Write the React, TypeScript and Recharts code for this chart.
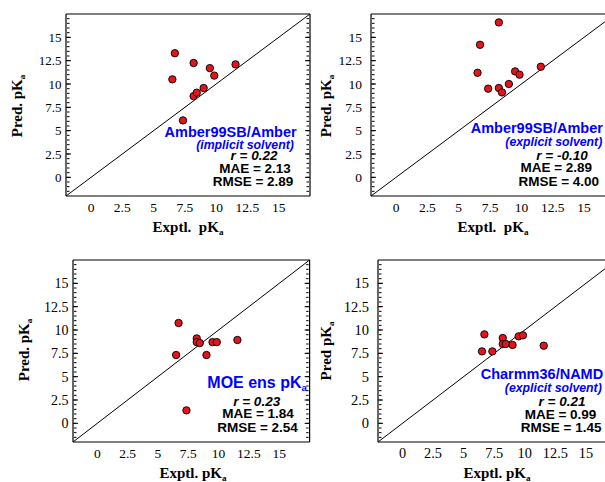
import React from "react";
import { ScatterChart, Scatter, XAxis, YAxis, ReferenceLine } from "recharts";

// experimental pKa (shared by all four panels) and predicted pKa per method
const exptPka = [6.5, 6.7, 7.35, 8.2, 8.2, 8.45, 9.0, 9.5, 9.85, 11.55];
const amberImplicitPred = [10.5, 13.3, 6.1, 12.25, 8.7, 9.07, 9.57, 11.7, 10.9, 12.1];
const amberExplicitPred = [11.2, 14.2, 9.5, 16.6, 9.57, 9.1, 10.0, 11.35, 11.0, 11.85];
const moePred = [7.32, 10.75, 1.39, 9.1, 8.7, 8.6, 7.32, 8.7, 8.7, 8.93];
const charmmPred = [7.71, 9.53, 7.71, 9.14, 8.5, 8.5, 8.4, 9.32, 9.43, 8.32];

const axisRange = [-2, 17.5];
const identityLine = [-2, 17.5];
const majorTicks = [0, 2.5, 5, 7.5, 10, 12.5, 15];
const minorTicks = Array.from({ length: 38 }, (_, i) => -1.5 + i * 0.5);

const panelTitles = ["Amber99SB/Amber", "Amber99SB/Amber", "MOE ens pK", "Charmm36/NAMD"];
const panelSolvents = ["(implicit solvent)", "(explicit solvent)", "", "(explicit solvent)"];
const panelR = ["0.22", "-0.10", "0.23", "0.21"];
const panelMAE = ["2.13", "2.89", "1.84", "0.99"];
const panelRMSE = ["2.89", "4.00", "2.54", "1.45"];
const yTitles = ["Pred. pK", "Pred. pK", "Pred. pK", "Pred pK"];
const xTitles = ["Exptl.  pK", "Exptl.  pK", "Exptl. pK", "Exptl. pK"];

const RED = "#e3141b";
const BLUE = "#0000ff";
const serif = "'Liberation Serif', 'Times New Roman', Times, serif";
const sans = "'Liberation Sans', Arial, Helvetica, sans-serif";

// margins already account for the 1px that the visible bottom/left axes take
const layouts = [
  {
    left: 0, top: 0, width: 320, height: 240,
    margin: { top: 14, right: 10, bottom: 43, left: 65 },
    xFont: 13.5, yFont: 13, yGap: 4.5,
    yTitle: { x: 22, y: 106 }, xTitle: { x: 188, y: 232 },
    title: { x: 296.7, y: 136.9, anchor: "end", size: 14.5 },
    sub: { x: 245, y: 149.3 }, r: { x: 254, y: 160 }, mae: { x: 255, y: 172.5 }, rmse: { x: 253, y: 185.8 },
  },
  {
    left: 300, top: 0, width: 330, height: 240,
    margin: { top: 14, right: 14.6, bottom: 43, left: 70 },
    xFont: 13.5, yFont: 13.5, yGap: 9,
    yTitle: { x: 330.5, y: 106 }, xTitle: { x: 493, y: 232 },
    title: { x: 470.7, y: 132.9, anchor: "start", size: 14.5 },
    sub: { x: 553.8, y: 146 }, r: { x: 562, y: 159.8 }, mae: { x: 556.3, y: 171.5 }, rmse: { x: 558.8, y: 185.5 },
  },
  {
    left: 0, top: 240, width: 320, height: 242,
    margin: { top: 20, right: 10.4, bottom: 39, left: 72 },
    xFont: 13.5, yFont: 14, yGap: 4.5,
    yTitle: { x: 29, y: 350 }, xTitle: { x: 193, y: 478 },
    title: { x: 207.3, y: 387.9, anchor: "start", size: 16 },
    sub: { x: 0, y: 0 }, r: { x: 256.7, y: 405.5 }, mae: { x: 258, y: 418.1 }, rmse: { x: 257.5, y: 432.1 },
  },
  {
    left: 300, top: 240, width: 330, height: 242,
    margin: { top: 20, right: 13.5, bottom: 39, left: 77 },
    xFont: 14.3, yFont: 14.5, yGap: 9,
    yTitle: { x: 330.5, y: 351 }, xTitle: { x: 497, y: 478 },
    title: { x: 480.7, y: 379.2, anchor: "start", size: 14.5 },
    sub: { x: 553.3, y: 392 }, r: { x: 562, y: 405.8 }, mae: { x: 560.5, y: 418.5 }, rmse: { x: 561.2, y: 432.1 },
  },
];

const predictions = [amberImplicitPred, amberExplicitPred, moePred, charmmPred];

const tickSets: [string, number[], number][] = [
  ["M", majorTicks, 5],
  ["m", minorTicks, 2.5],
];

const frameLine = { stroke: "#000", strokeWidth: 1.2 };
const markLine = { stroke: "#000", strokeWidth: 1 };

function Dot(p: any) {
  return <circle cx={p.cx} cy={p.cy} r={3.7} fill={RED} stroke="#000" strokeWidth={0.9} />;
}

// tick marks only, no label text
function NoLabel() {
  return <g />;
}

function Panel({ idx }: { idx: number }) {
  const lay = layouts[idx];
  const data = exptPka.map((x, i) => ({ x, y: predictions[idx][i] }));
  const segment = identityLine.map((v) => ({ x: v, y: v }));
  const common = { type: "number" as const, domain: axisRange, allowDataOverflow: true, interval: 0 as const };

  return (
    <div style={{ position: "absolute", left: lay.left, top: lay.top }}>
      <ScatterChart width={lay.width} height={lay.height} margin={lay.margin}>
        <XAxis
          {...common}
          xAxisId="x"
          dataKey="x"
          ticks={majorTicks}
          height={1}
          tickSize={0}
          tickMargin={6}
          tickLine={false}
          axisLine={frameLine}
          tick={{ fill: "#000", fontSize: lay.xFont, fontFamily: serif }}
        />
        <YAxis
          {...common}
          yAxisId="y"
          dataKey="y"
          ticks={majorTicks}
          width={1}
          tickSize={0}
          tickMargin={lay.yGap}
          tickLine={false}
          axisLine={frameLine}
          tick={{ fill: "#000", fontSize: lay.yFont, fontFamily: serif }}
        />
        {tickSets.map(([name, ticks, len]) => (
          <XAxis key={"xb" + name} {...common} xAxisId={"xb" + name} orientation="bottom" mirror ticks={ticks}
            height={1} tickSize={len} tick={NoLabel} axisLine={false} tickLine={markLine} />
        ))}
        {tickSets.map(([name, ticks, len]) => (
          <XAxis key={"xt" + name} {...common} xAxisId={"xt" + name} orientation="top" mirror ticks={ticks}
            height={1} tickSize={len} tick={NoLabel} axisLine={name === "M" ? frameLine : false} tickLine={markLine} />
        ))}
        {tickSets.map(([name, ticks, len]) => (
          <YAxis key={"yl" + name} {...common} yAxisId={"yl" + name} orientation="left" mirror ticks={ticks}
            width={1} tickSize={len} tick={NoLabel} axisLine={false} tickLine={markLine} />
        ))}
        {tickSets.map(([name, ticks, len]) => (
          <YAxis key={"yr" + name} {...common} yAxisId={"yr" + name} orientation="right" mirror ticks={ticks}
            width={1} tickSize={len} tick={NoLabel} axisLine={name === "M" ? frameLine : false} tickLine={markLine} />
        ))}
        <ReferenceLine xAxisId="x" yAxisId="y" segment={segment} stroke="#000" strokeWidth={1} ifOverflow="visible" />
        <Scatter xAxisId="x" yAxisId="y" data={data} shape={Dot} isAnimationActive={false} />
      </ScatterChart>
    </div>
  );
}

function Sub({ size }: { size: number }) {
  return (
    <tspan fontSize={size * 0.6} dy={size * 0.2}>
      a
    </tspan>
  );
}

function Annotations() {
  return (
    <svg width={605} height={482} style={{ position: "absolute", left: 0, top: 0, pointerEvents: "none" }}>
      {layouts.map((lay, i) => (
        <g key={i}>
          <text
            transform={`translate(${lay.yTitle.x},${lay.yTitle.y}) rotate(-90)`}
            textAnchor="middle"
            fontFamily={serif}
            fontWeight="bold"
            fontSize={15}
            fill="#000"
            style={{ whiteSpace: "pre" }}
          >
            {yTitles[i]}
            <Sub size={15} />
          </text>
          <text
            x={lay.xTitle.x}
            y={lay.xTitle.y}
            textAnchor="middle"
            fontFamily={serif}
            fontWeight="bold"
            fontSize={15}
            fill="#000"
            style={{ whiteSpace: "pre" }}
          >
            {xTitles[i]}
            <Sub size={15} />
          </text>
          <text
            x={lay.title.x}
            y={lay.title.y}
            textAnchor={lay.title.anchor as any}
            fontFamily={sans}
            fontWeight="bold"
            fontSize={lay.title.size}
            fill={BLUE}
          >
            {panelTitles[i]}
            {i === 2 && <Sub size={lay.title.size} />}
          </text>
          {panelSolvents[i] && (
            <text x={lay.sub.x} y={lay.sub.y} textAnchor="middle" fontFamily={sans} fontWeight="bold"
              fontStyle="italic" fontSize={12.3} fill={BLUE}>
              {panelSolvents[i]}
            </text>
          )}
          <text x={lay.r.x} y={lay.r.y} textAnchor="middle" fontFamily={sans} fontWeight="bold"
            fontStyle="italic" fontSize={13.5} fill="#000">
            {`r = ${panelR[i]}`}
          </text>
          <text x={lay.mae.x} y={lay.mae.y} textAnchor="middle" fontFamily={sans} fontWeight="bold"
            fontSize={13.5} fill="#000">
            {`MAE = ${panelMAE[i]}`}
          </text>
          <text x={lay.rmse.x} y={lay.rmse.y} textAnchor="middle" fontFamily={sans} fontWeight="bold"
            fontSize={13.5} fill="#000">
            {`RMSE = ${panelRMSE[i]}`}
          </text>
        </g>
      ))}
    </svg>
  );
}

export default function App() {
  return (
    <div
      style={{
        position: "absolute",
        left: 0,
        top: 0,
        width: 605,
        height: 482,
        overflow: "hidden",
        background: "#fff",
      }}
    >
      {[0, 1, 2, 3].map((i) => (
        <Panel key={i} idx={i} />
      ))}
      <Annotations />
    </div>
  );
}
